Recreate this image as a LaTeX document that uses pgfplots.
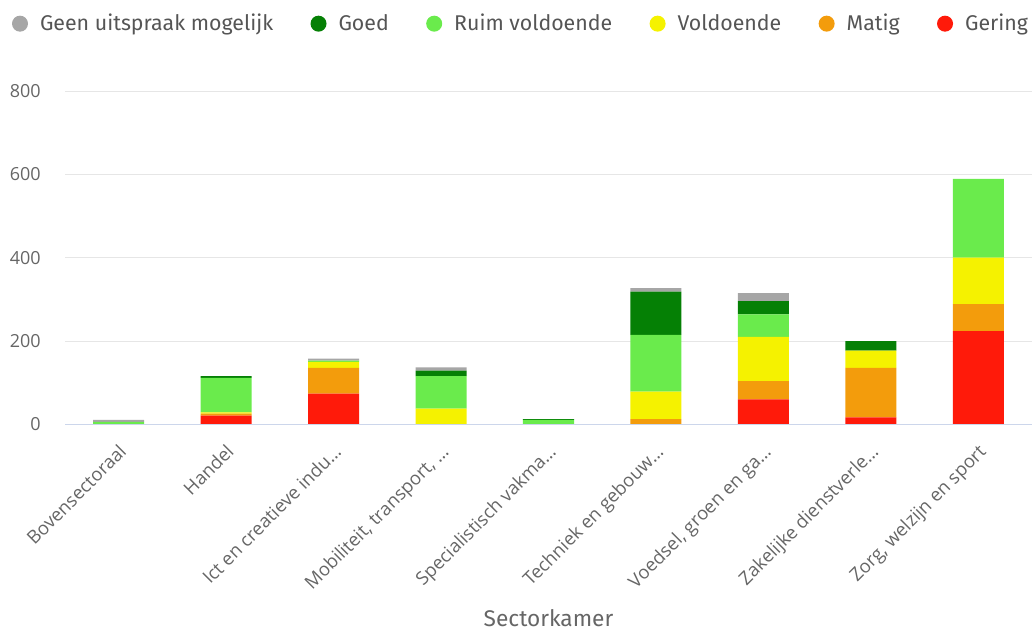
\documentclass[border=0pt]{standalone}
\usepackage{pgfplots}
\pgfplotsset{compat=1.18}
\usepackage{fontspec}
\setmainfont{Fira Sans}
\newfontfamily\opensans{Open Sans}

\definecolor{cGeen}{HTML}{A6A6A6}
\definecolor{cGoed}{HTML}{058005}
\definecolor{cRuim}{HTML}{6AEB4C}
\definecolor{cVold}{HTML}{F5F200}
\definecolor{cMatig}{HTML}{F39C0C}
\definecolor{cGering}{HTML}{FF1A0A}
\definecolor{labelgray}{HTML}{666666}
\definecolor{legendgray}{HTML}{555555}
\definecolor{gridgray}{HTML}{E6E6E6}
\definecolor{zeroline}{HTML}{CCD6EB}

\pgfplotsset{
  dot legend/.style={legend image code/.code={\fill[##1,draw=none] (6pt,0pt) circle (6pt);}},
}

\begin{document}
\begin{tikzpicture}
\begin{axis}[
  scale only axis,
  width=725pt, height=250pt,
  ybar stacked, bar width=38.25pt,
  xmin=-0.5, xmax=8.5,
  ymin=0, ymax=800,
  xtick=data,
  xticklabels={Bovensectoraal, Handel, Ict en creatieve indu\dots, {Mobiliteit, transport, \dots}, Specialistisch vakma\dots, Techniek en gebouw\dots, {Voedsel, groen en ga\dots}, Zakelijke dienstverle\dots, {Zorg, welzijn en sport}},
  x tick label style={rotate=45, anchor=north east, font=\opensans\fontsize{13.8}{15}\selectfont,
    text=labelgray, inner sep=0pt, xshift=-10.4pt, yshift=-9.1pt},
  ytick={0,200,400,600,800},
  y tick label style={font=\opensans\fontsize{13.5}{15}\selectfont, text=labelgray,
    inner sep=0pt, anchor=east, xshift=-18pt},
  /pgf/number format/assume math mode=true,
  ymajorgrids, grid style={draw=gridgray, line width=0.75pt},
  axis line style={draw=none},
  major tick length=0pt,
  xlabel={Sectorkamer},
  xlabel style={at={(rel axis cs:0.5,0)}, anchor=center, yshift=-145pt,
    font=\fontsize{17}{20}\selectfont, text=labelgray},
  legend columns=6,
  reverse legend,
  legend cell align=left,
  legend style={at={(rel axis cs:0,1)}, anchor=west, xshift=-39.75pt, yshift=50.5pt,
    draw=none, fill=none, inner sep=0pt, outer sep=0pt,
    font=\fontsize{16}{19}\selectfont, text=legendgray,
    nodes={inner sep=0pt},
    /tikz/every odd column/.append style={column sep=9pt},
    /tikz/every even column/.append style={column sep=28pt}},
  every axis plot/.append style={draw=none},
  clip=false,
]
\draw[zeroline, line width=0.75pt] (rel axis cs:0,0) -- (rel axis cs:1,0);
\addplot+[fill=cGering, dot legend] coordinates {(0,0) (1,21) (2,74) (3,0) (4,0) (5,0) (6,60) (7,17) (8,224)};
\addlegendentry{Gering}
\addplot+[fill=cMatig, dot legend] coordinates {(0,0) (1,5) (2,62) (3,0) (4,0) (5,13) (6,44) (7,119) (8,65)};
\addlegendentry{Matig}
\addplot+[fill=cVold, dot legend] coordinates {(0,0) (1,3) (2,14) (3,38) (4,0) (5,66) (6,106) (7,41) (8,111)};
\addlegendentry{Voldoende}
\addplot+[fill=cRuim, dot legend] coordinates {(0,6) (1,83) (2,3) (3,78) (4,11) (5,136) (6,54) (7,0) (8,189)};
\addlegendentry{Ruim voldoende}
\addplot+[fill=cGoed, dot legend] coordinates {(0,0) (1,4) (2,0) (3,13) (4,2) (5,104) (6,32) (7,23) (8,0)};
\addlegendentry{Goed}
\addplot+[fill=cGeen, dot legend] coordinates {(0,5) (1,0) (2,5) (3,8) (4,0) (5,8) (6,19) (7,0) (8,0)};
\addlegendentry{Geen uitspraak mogelijk}
\end{axis}
\pgfresetboundingbox
\useasboundingbox (-48.75pt,-154.3pt) rectangle (725pt,318.25pt);
\end{tikzpicture}
\end{document}
